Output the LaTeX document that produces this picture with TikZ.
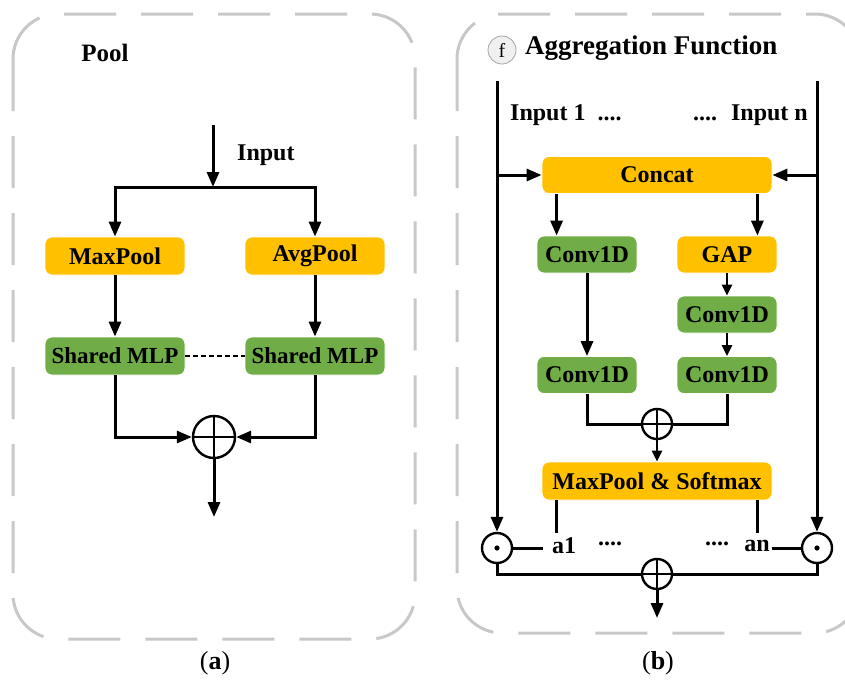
\documentclass[tikz,border=0pt]{standalone}
\usepackage{fontspec}
\setmainfont{Liberation Serif}
\usetikzlibrary{arrows.meta,calc}
\definecolor{orng}{HTML}{FFC000}
\definecolor{grn}{HTML}{70AD47}
\definecolor{framegray}{HTML}{C8C8C8}
\tikzset{
  txt/.style={font=\fontsize{24}{26}\selectfont\bfseries, inner sep=0pt},
  box/.style={txt, rounded corners=7pt, minimum height=38pt, draw=white, line width=0.8pt},
  obox/.style={box, fill=orng},
  gbox/.style={box, fill=grn},
  ln/.style={line width=3pt, line cap=butt},
  arr/.style={ln, -{Triangle[length=15pt,width=12pt]}},
  sarr/.style={line width=2.6pt, -{Triangle[length=11pt,width=10pt]}},
  frm/.style={draw=framegray, line width=3pt, dash pattern=on 52pt off 25pt, rounded corners=45pt},
  opl/.style={circle, draw, line width=2.4pt, inner sep=0pt},
}
\begin{document}
\begin{tikzpicture}[x=1pt,y=-1pt]
\useasboundingbox (0,0) rectangle (845,681);
% ---------- panel a ----------
\draw[frm] (13,14) rectangle (415,639);
\node[txt, font=\fontsize{25}{27}\selectfont\bfseries] (pool) at (105,53) {Pool};
\coordinate (inTop) at (213,125);
\coordinate (split) at (213,187);
\node[txt, anchor=west] (inlab) at (237,155) {Input};
\node[obox, minimum width=140pt] (mp) at (115,256) {MaxPool};
\node[obox, minimum width=140pt] (ap) at (315,256) {AvgPool};
\node[gbox, minimum width=140pt, font=\fontsize{23}{25}\selectfont\bfseries] (m1) at (115,356) {Shared MLP};
\node[gbox, minimum width=140pt, font=\fontsize{23}{25}\selectfont\bfseries] (m2) at (315,356) {Shared MLP};
\node[opl, minimum size=42pt] (sumA) at (214,437) {};
\coordinate (outA) at (214,517);
\draw[arr] (inTop) -- (split);
\draw[arr] (split) -| (mp.north);
\draw[arr] (split) -| (ap.north);
\draw[arr] (mp) -- (m1);
\draw[arr] (ap) -- (m2);
\draw[line width=2.2pt, dash pattern=on 5pt off 3pt] (m1) -- (m2);
\draw[arr] (m1.south) |- (sumA.west);
\draw[arr] (m2.south) |- (sumA.east);
\draw[line width=2.4pt] (sumA.north) -- (sumA.south) (sumA.west) -- (sumA.east);
\draw[arr] (sumA.south) -- (outA);
\node[font=\fontsize{26}{28}\selectfont, inner sep=0pt] (labA) at (215,663) {(\textbf{a})};
% ---------- panel b ----------
\draw[frm] (457,14) rectangle (860,633);
\node[circle, draw=gray!70, fill=gray!12, line width=0.8pt, minimum size=28pt, inner sep=0pt,
      font=\fontsize{20}{22}\selectfont] (fcirc) at (502,50) {f};
\node[txt, anchor=west, font=\fontsize{27}{29}\selectfont\bfseries] (title) at (525,48) {Aggregation Function};
\coordinate (Ltop) at (497,81);
\coordinate (Rtop) at (817,81);
\node[txt, anchor=west] (in1) at (510,115) {Input 1~ ....};
\node[txt, anchor=east] (inn) at (808,115) {....~ Input n};
\node[obox, minimum width=230pt, minimum height=37pt] (concat) at (657,175) {Concat};
\node[gbox, minimum width=100pt, minimum height=37pt] (c1) at (587,254.5) {Conv1D};
\node[obox, minimum width=100pt, minimum height=37pt] (gap) at (727,254.5) {GAP};
\node[gbox, minimum width=100pt, minimum height=37pt] (c2) at (727,314.5) {Conv1D};
\node[gbox, minimum width=100pt, minimum height=37pt] (c3) at (587,375) {Conv1D};
\node[gbox, minimum width=100pt, minimum height=37pt] (c4) at (727,375) {Conv1D};
\node[opl, minimum size=30pt] (sumB) at (657,424) {};
\node[obox, minimum width=230pt, minimum height=38pt] (msm) at (657,481) {MaxPool \& Softmax};
\node[opl, minimum size=30pt] (o1) at (497,548) {};
\node[opl, minimum size=30pt] (o2) at (817,548) {};
\fill (o1) circle (2.6pt);
\fill (o2) circle (2.6pt);
\node[txt] (a1) at (564,546) {a1};
\node[txt] (an) at (757,546) {an};
\node[txt] (d1) at (610,544) {....};
\node[txt] (d2) at (717,544) {....};
\node[opl, minimum size=30pt] (sumC) at (657,574) {};
\coordinate (outB) at (657,618);
% connectors
\draw[arr] (Ltop) -- (o1.north);
\draw[arr] (Rtop) -- (o2.north);
\draw[arr] (Ltop |- concat.west) -- (concat.west);
\draw[arr] (Rtop |- concat.east) -- (concat.east);
\draw[arr] ($(concat.south west)+(15,0)$) -- ($(c1.north west)+(20,0)$);
\draw[arr] ($(concat.south east)+(-15,0)$) -- ($(gap.north east)+(-20,0)$);
\draw[arr] (c1) -- (c3);
\draw[sarr] (gap) -- (c2);
\draw[sarr] (c2) -- (c4);
\draw[ln] (c3.south) |- (sumB.west);
\draw[ln] (c4.south) |- (sumB.east);
\draw[line width=2.2pt] (sumB.north) -- (sumB.south) (sumB.west) -- (sumB.east);
\draw[sarr] (sumB.south) -- (msm.north);
\draw[ln] ($(msm.south west)+(15,0)$) -- ++(0,33);
\draw[ln] ($(msm.south east)+(-15,0)$) -- ++(0,33);
\draw[ln, shorten >=9pt] (o1.east) -- (a1.west |- o1.east);
\draw[ln, shorten <=2pt] (an.east |- o2.west) -- (o2.west);
\draw[ln] (o1.south) |- (sumC.west);
\draw[ln] (o2.south) |- (sumC.east);
\draw[line width=2.2pt] (sumC.north) -- (sumC.south) (sumC.west) -- (sumC.east);
\draw[arr] (sumC.south) -- (outB);
\node[font=\fontsize{26}{28}\selectfont, inner sep=0pt] (labB) at (658,663) {(\textbf{b})};
\end{tikzpicture}
\end{document}
